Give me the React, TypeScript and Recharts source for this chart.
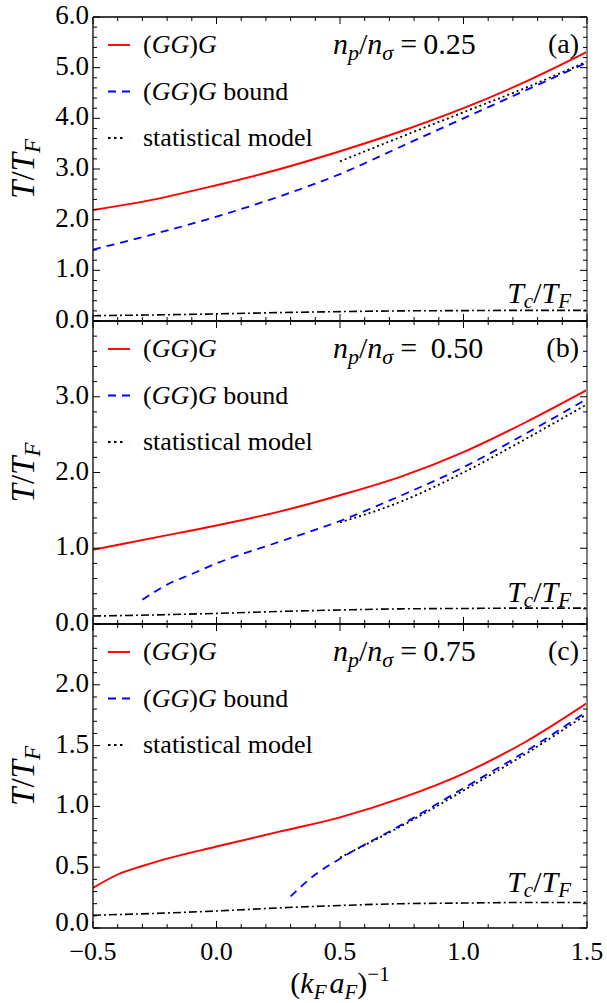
import React from 'react';
import { LineChart, Line, XAxis, YAxis } from 'recharts';

const W = 607;
const H = 1003;
const PLOT_LEFT = 93;
const PLOT_RIGHT = 587;
const SERIF = "'Liberation Serif', 'Times New Roman', Times, serif";

// x samples, (k_F a_F)^-1
const xGrid = [-0.5, -0.25, 0, 0.25, 0.5, 0.75, 1.0, 1.25, 1.5];
const xStat = [0.5, 0.75, 1.0, 1.25, 1.5];

// Tc/TF (same curve in all panels)
const tcVals = [0.105, 0.12, 0.14, 0.165, 0.185, 0.2, 0.205, 0.21, 0.21];

// (a) np/nσ = 0.25
const ggA = [2.19, 2.4, 2.68, 2.99, 3.35, 3.75, 4.2, 4.72, 5.31];
const boundA = [1.41, 1.72, 2.06, 2.45, 2.9, 3.45, 4.0, 4.55, 5.1];
const statA = [3.15, 3.64, 4.12, 4.6, 5.12];

// (b) np/nσ = 0.50
const ggB = [0.98, 1.14, 1.3, 1.48, 1.7, 1.95, 2.27, 2.66, 3.09];
const xBoundB = [-0.3, -0.2, -0.1, 0, 0.25, 0.5, 0.75, 1.0, 1.25, 1.5];
const boundB = [0.32, 0.52, 0.66, 0.8, 1.08, 1.36, 1.7, 2.07, 2.51, 2.97];
const statB = [1.34, 1.62, 2.0, 2.44, 2.9];

// (c) np/nσ = 0.75
const xGgC = [-0.5, -0.4, -0.3, -0.2, 0, 0.25, 0.5, 0.75, 1.0, 1.25, 1.5];
const ggC = [0.33, 0.44, 0.51, 0.57, 0.67, 0.79, 0.91, 1.07, 1.27, 1.53, 1.85];
const xBoundC = [0.3, 0.4, 0.5, 0.75, 1.0, 1.25, 1.5];
const boundC = [0.26, 0.44, 0.57, 0.85, 1.15, 1.45, 1.78];
const statC = [0.58, 0.84, 1.13, 1.43, 1.76];

const pts = (xs: number[], ys: number[]) => xs.map((x, i) => ({ x, y: ys[i] }));

const steps = (from: number, to: number, step: number) => {
  const out: number[] = [];
  for (let v = from; v <= to + 1e-9; v += step) out.push(Math.round(v * 1e4) / 1e4);
  return out;
};
const isMult = (v: number, m: number) => Math.abs(v / m - Math.round(v / m)) < 1e-6;
const fmt = (v: number) => (v < 0 ? '\u2212' + Math.abs(v).toFixed(1) : v.toFixed(1));

type PanelCfg = {
  tag: string;
  ratio: string;
  top: number;
  bottom: number;
  yMax: number;
  yMajor: number;
  yMinor: number;
  labelMax: number;
  tcLabelY: number;
  showX: boolean;
  gg: { x: number; y: number }[];
  bound: { x: number; y: number }[];
  stat: { x: number; y: number }[];
};

const panels: PanelCfg[] = [
  {
    tag: '(a)', ratio: '0.25', top: 17, bottom: 321, yMax: 6, yMajor: 1, yMinor: 0.2,
    labelMax: 6, tcLabelY: 303, showX: false,
    gg: pts(xGrid, ggA), bound: pts(xGrid, boundA), stat: pts(xStat, statA),
  },
  {
    tag: '(b)', ratio: ' 0.50', top: 321, bottom: 624, yMax: 4, yMajor: 1, yMinor: 0.2,
    labelMax: 3, tcLabelY: 602, showX: false,
    gg: pts(xGrid, ggB), bound: pts(xBoundB, boundB), stat: pts(xStat, statB),
  },
  {
    tag: '(c)', ratio: '0.75', top: 624, bottom: 928, yMax: 2.5, yMajor: 0.5, yMinor: 0.1,
    labelMax: 2, tcLabelY: 892, showX: true,
    gg: pts(xGgC, ggC), bound: pts(xBoundC, boundC), stat: pts(xStat, statC),
  },
];

const tcData = pts(xGrid, tcVals);

const bottomTick = (labels: boolean) => (props: any) => {
  const { x, y, payload } = props;
  const major = isMult(payload.value, 0.5);
  return (
    <g>
      <line x1={x} x2={x} y1={y} y2={y - (major ? 7 : 4)} stroke="#000" strokeWidth={1} />
      {labels && major && (
        <text x={x} y={y + 32} textAnchor="middle" fontSize={26} style={{ fontFamily: SERIF }} fill="#000">
          {fmt(payload.value)}
        </text>
      )}
    </g>
  );
};

const topTick = (props: any) => {
  const { x, y, payload } = props;
  const major = isMult(payload.value, 0.5);
  return <line x1={x} x2={x} y1={y} y2={y + (major ? 7 : 4)} stroke="#000" strokeWidth={1} />;
};

const leftTick = (p: PanelCfg) => (props: any) => {
  const { x, y, payload } = props;
  const major = isMult(payload.value, p.yMajor);
  // the lowest label of the bottom panel sits a little higher, clear of the x labels
  const lift = p.showX && payload.value === 0 ? 3 : 7;
  return (
    <g>
      <line x1={x} x2={x + (major ? 7 : 4)} y1={y} y2={y} stroke="#000" strokeWidth={1} />
      {major && payload.value <= p.labelMax + 1e-6 && (
        <text x={x - 4} y={y + lift} textAnchor="end" fontSize={27} style={{ fontFamily: SERIF }} fill="#000">
          {fmt(payload.value)}
        </text>
      )}
    </g>
  );
};

const rightTick = (p: PanelCfg) => (props: any) => {
  const { x, y, payload } = props;
  const major = isMult(payload.value, p.yMajor);
  return <line x1={x} x2={x - (major ? 7 : 4)} y1={y} y2={y} stroke="#000" strokeWidth={1} />;
};

function Panel({ p }: { p: PanelCfg }) {
  const xTicks = steps(-0.5, 1.5, 0.1);
  const yTicks = steps(0, p.yMax, p.yMinor);
  const frame = { stroke: '#000', strokeWidth: 1.3 };
  // axes are 1px thick, so margins are trimmed by 1 to keep the plot box exact
  return (
    <div style={{ position: 'absolute', left: 0, top: 0 }}>
      <LineChart
        width={W}
        height={H}
        margin={{ top: p.top - 1, bottom: H - p.bottom - 1, left: PLOT_LEFT - 1, right: W - PLOT_RIGHT - 1 }}
      >
        <XAxis
          xAxisId="b" dataKey="x" type="number" domain={[-0.5, 1.5]} allowDataOverflow
          ticks={xTicks} interval={0} height={1} tickSize={0} tickMargin={0}
          tickLine={false} axisLine={frame} tick={bottomTick(p.showX)}
        />
        <XAxis
          xAxisId="t" orientation="top" dataKey="x" type="number" domain={[-0.5, 1.5]} allowDataOverflow
          ticks={xTicks} interval={0} height={1} tickSize={0} tickMargin={0}
          tickLine={false} axisLine={frame} tick={topTick}
        />
        <YAxis
          yAxisId="l" type="number" domain={[0, p.yMax]} allowDataOverflow
          ticks={yTicks} interval={0} width={1} tickSize={0} tickMargin={0}
          tickLine={false} axisLine={frame} tick={leftTick(p)}
        />
        <YAxis
          yAxisId="r" orientation="right" type="number" domain={[0, p.yMax]} allowDataOverflow
          ticks={yTicks} interval={0} width={1} tickSize={0} tickMargin={0}
          tickLine={false} axisLine={{ stroke: '#808080', strokeWidth: 2 }} tick={rightTick(p)}
        />
        <Line
          xAxisId="b" yAxisId="l" data={tcData} dataKey="y" type="monotone"
          stroke="#000" strokeWidth={1.6} strokeDasharray="8 3 2 3" dot={false} isAnimationActive={false}
        />
        <Line
          xAxisId="b" yAxisId="l" data={p.stat} dataKey="y" type="monotone"
          stroke="#000" strokeWidth={1.8} strokeDasharray="2 3" dot={false} isAnimationActive={false}
        />
        <Line
          xAxisId="b" yAxisId="l" data={p.bound} dataKey="y" type="monotone"
          stroke="#0000ff" strokeWidth={1.8} strokeDasharray="8 6" dot={false} isAnimationActive={false}
        />
        <Line
          xAxisId="b" yAxisId="l" data={p.gg} dataKey="y" type="monotone"
          stroke="#ff0000" strokeWidth={1.9} dot={false} isAnimationActive={false}
        />
      </LineChart>
    </div>
  );
}

function Overlay() {
  return (
    <svg
      width={W}
      height={H}
      style={{ position: 'absolute', left: 0, top: 0, pointerEvents: 'none', fontFamily: SERIF }}
      fill="#000"
    >
      {panels.map((p) => {
        const r1 = p.top + 28;
        const r2 = p.top + 74.5;
        const r3 = p.top + 121;
        return (
          <g key={p.tag}>
            <text transform={`translate(34, ${(p.top + p.bottom) / 2}) rotate(-90)`} textAnchor="middle" fontSize={33}>
              <tspan fontStyle="italic">T</tspan>
              <tspan>/</tspan>
              <tspan fontStyle="italic">T</tspan>
              <tspan fontStyle="italic" fontSize={23} dy={6}>F</tspan>
            </text>

            <line x1={108} x2={130} y1={r1} y2={r1} stroke="#ff0000" strokeWidth={1.9} />
            <text x={143} y={r1 + 8} fontSize={26}>
              (<tspan fontStyle="italic">GG</tspan>)<tspan fontStyle="italic">G</tspan>
            </text>
            <line x1={108} x2={130} y1={r2} y2={r2} stroke="#0000ff" strokeWidth={1.8} strokeDasharray="8 6" />
            <text x={143} y={r2 + 8} fontSize={26}>
              (<tspan fontStyle="italic">GG</tspan>)<tspan fontStyle="italic">G</tspan> bound
            </text>
            <line x1={108} x2={123} y1={r3} y2={r3} stroke="#000" strokeWidth={1.8} strokeDasharray="2.5 3.5" />
            <text x={143} y={r3 + 8} fontSize={26}>statistical model</text>

            <text x={333} y={p.top + 37} fontSize={30} style={{ whiteSpace: 'pre' }}>
              <tspan fontStyle="italic">n</tspan>
              <tspan fontStyle="italic" fontSize={22} dy={6}>p</tspan>
              <tspan dy={-6}>/</tspan>
              <tspan fontStyle="italic">n</tspan>
              <tspan fontStyle="italic" fontSize={22} dy={6}>σ</tspan>
              <tspan dy={-6} dx={7}>=</tspan>
              <tspan dx={6}>{p.ratio}</tspan>
            </text>
            <text x={579} y={p.top + 36} textAnchor="end" fontSize={28}>{p.tag}</text>

            <text x={571} y={p.tcLabelY} textAnchor="end" fontSize={30}>
              <tspan fontStyle="italic">T</tspan>
              <tspan fontStyle="italic" fontSize={21} dy={5}>c</tspan>
              <tspan dy={-5}>/</tspan>
              <tspan fontStyle="italic">T</tspan>
              <tspan fontStyle="italic" fontSize={21} dy={5}>F</tspan>
            </text>
          </g>
        );
      })}
      <text x={(PLOT_LEFT + PLOT_RIGHT) / 2} y={993} textAnchor="middle" fontSize={30}>
        <tspan>(</tspan>
        <tspan fontStyle="italic">k</tspan>
        <tspan fontStyle="italic" fontSize={21} dy={6}>F</tspan>
        <tspan fontStyle="italic" dy={-6} dx={3}>a</tspan>
        <tspan fontStyle="italic" fontSize={21} dy={6}>F</tspan>
        <tspan dy={-6}>)</tspan>
        <tspan fontSize={21} dy={-12}>{'\u22121'}</tspan>
      </text>
    </svg>
  );
}

export default function App() {
  return (
    <div style={{ position: 'absolute', left: 0, top: 0, width: W, height: H, background: '#fff', fontFamily: SERIF }}>
      {panels.map((p) => (
        <Panel key={p.tag} p={p} />
      ))}
      <Overlay />
    </div>
  );
}
